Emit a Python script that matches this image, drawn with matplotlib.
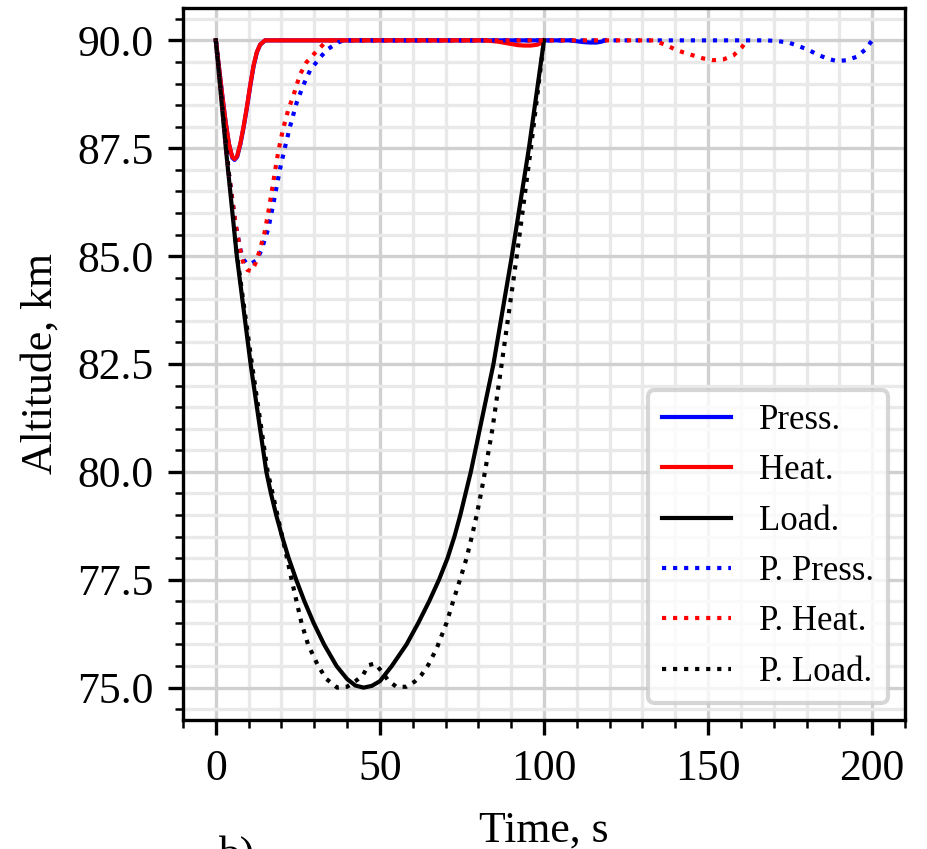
import numpy as np
import matplotlib.pyplot as plt
from matplotlib.ticker import MultipleLocator

plt.rcParams['font.family'] = ['Liberation Serif', 'DejaVu Serif']
plt.rcParams['font.size'] = 10.5

# Optimised trajectories (solid)
t_press = [0, 1, 2, 3, 4, 5, 5.7, 6.5, 7.5, 8.5, 9.5, 10.5, 11.5, 12.5, 13.5, 15,
           108, 110, 112, 114, 116, 117.5, 118.6]
h_press = [90, 89.35, 88.7, 88.1, 87.6, 87.28, 87.23, 87.3, 87.6, 88.0, 88.45, 88.95, 89.4, 89.72, 89.9, 90,
           90, 89.98, 89.96, 89.95, 89.95, 89.97, 90]

t_heat = [0, 1, 2, 3, 4, 5, 5.7, 6.5, 7.5, 8.5, 9.5, 10.5, 11.5, 12.5, 13.5, 15,
          82, 86, 89, 92, 94, 96, 98, 99.5, 100]
h_heat = [90, 89.35, 88.7, 88.1, 87.6, 87.3, 87.25, 87.32, 87.62, 88.02, 88.47, 88.97, 89.42, 89.73, 89.9, 90,
          90, 89.97, 89.93, 89.89, 89.88, 89.88, 89.9, 89.95, 90]

t_load = [0, 3.05, 6.4, 10.6, 15.4, 16.8, 18.4, 20.2, 22.2, 24.5, 27.0, 29.8, 33.0, 36.8, 40, 42.5, 45,
          47.5, 50, 53.6, 58.1, 61.7, 65, 68, 70.6, 72.7, 74.5, 76.1, 77.7, 84.6, 90.2, 95.4, 100]
h_load = [90, 87.5, 85.0, 82.5, 80.0, 79.5, 79.0, 78.5, 78.0, 77.5, 77.0, 76.5, 76.0, 75.5, 75.2, 75.05, 75.0,
          75.04, 75.15, 75.5, 76.0, 76.5, 77.0, 77.5, 78.0, 78.5, 79.0, 79.5, 80.0, 82.5, 85.0, 87.5, 90]

# Predicted trajectories (dotted)
t_p_press = [0, 2, 4, 6, 7.5, 8.5, 9.4, 10.5, 12.4, 13.9, 16, 17.5, 18.5, 19.5, 21, 22.6, 24.6, 26.6,
             28.7, 31.7, 34.2, 37.2, 39, 168, 171.4, 174.5, 177.5, 180.6, 183.1, 186.2, 189.2, 192.3,
             195.3, 197.8, 200]
h_p_press = [90, 88.4, 86.9, 85.75, 85.15, 84.92, 84.83, 84.82, 84.9, 85.14, 85.64, 86.2, 86.6, 87.0, 87.5,
             88.0, 88.55, 88.95, 89.3, 89.6, 89.8, 89.95, 90, 90, 89.98, 89.95, 89.87, 89.78, 89.68, 89.58,
             89.52, 89.54, 89.62, 89.78, 90]

t_p_heat = [0, 2, 4, 6, 7.8, 8.6, 9.6, 10.9, 12.2, 13.4, 14.9, 16, 17, 18, 19, 20.5, 22, 24.1, 25.6,
            27.6, 30.7, 32.4, 34, 130, 133.3, 136.9, 140, 142.5, 145.5, 148.6, 151.6, 154.7, 157.7,
            160.2, 161.8]
h_p_heat = [90, 88.4, 86.9, 85.75, 85.0, 84.79, 84.68, 84.65, 84.85, 85.14, 85.56, 86.02, 86.48, 86.95,
            87.41, 87.95, 88.37, 88.83, 89.2, 89.49, 89.75, 89.88, 90, 90, 90, 89.9, 89.79, 89.72, 89.65,
            89.58, 89.54, 89.56, 89.65, 89.83, 90]

t_p_load = [0, 3.2, 6.5, 11.0, 15.8, 17.3, 19.5, 21.7, 23.1, 24.6, 26.1, 28.1, 31.2, 33.7, 37, 40, 42.9,
            44.9, 46.5, 48.5, 50.5, 52.5, 55, 58, 60.6, 62.7, 64.7, 67.3, 70.3, 72.3, 74.4, 76.4, 78.0,
            79.5, 80.8, 82.0, 84.3, 87.1, 91.7, 96.0, 100]
h_p_load = [90, 87.5, 85.0, 82.5, 80.0, 79.5, 78.75, 78.0, 77.5, 77.0, 76.5, 76.0, 75.5, 75.2, 75.0,
            75.02, 75.17, 75.3, 75.52, 75.56, 75.38, 75.17, 75.02, 75.02, 75.14, 75.3, 75.52, 75.91, 76.5,
            77.0, 77.5, 78.0, 78.5, 79.0, 79.5, 80.0, 81.0, 82.5, 85.0, 87.5, 90]

fig = plt.figure(figsize=(927 / 300, 849 / 300), dpi=300)
ax = fig.add_axes([183 / 927, 1 - 720 / 849, 722 / 927, 712 / 849])

lw = 1.0
ax.plot(t_press, h_press, color='blue', lw=lw, label='Press.')
ax.plot(t_heat, h_heat, color='red', lw=lw, label='Heat.')
ax.plot(t_load, h_load, color='black', lw=lw, label='Load.')
ax.plot(t_p_press, h_p_press, color='blue', lw=lw, ls=':', label='P. Press.')
ax.plot(t_p_heat, h_p_heat, color='red', lw=lw, ls=':', label='P. Heat.')
ax.plot(t_p_load, h_p_load, color='black', lw=lw, ls=':', label='P. Load.')

ax.set_xlim(-10, 210)
ax.set_ylim(74.25, 90.75)
ax.xaxis.set_major_locator(MultipleLocator(50))
ax.xaxis.set_minor_locator(MultipleLocator(10))
ax.yaxis.set_major_locator(MultipleLocator(2.5))
ax.yaxis.set_minor_locator(MultipleLocator(0.5))
ax.grid(which='major', color='#d0d0d0', lw=0.8)
ax.grid(which='minor', color='#e9e9e9', lw=0.8)

ax.set_xlabel('Time, s', labelpad=5.2)
ax.set_ylabel('Altitude, km')
ax.legend(loc='lower right', fontsize=8.33)

# panel tag, cut off at the bottom edge as in the source
fig.text(218 / 927, 1 - 835 / 849, 'b)', va='top', ha='left')

plt.savefig('out.png', dpi=300)
